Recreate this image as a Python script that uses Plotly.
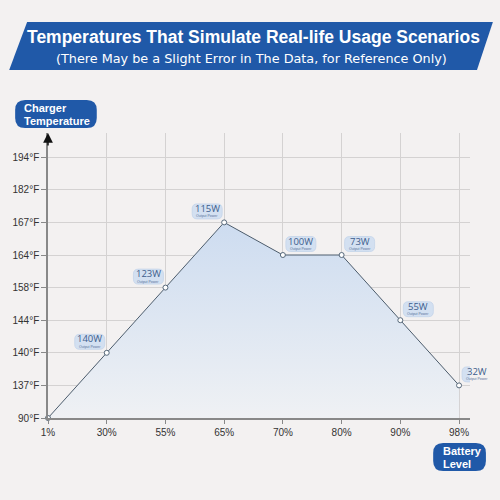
import plotly.graph_objects as go

# ---- data ----
battery_levels = ["1%", "30%", "55%", "65%", "70%", "80%", "90%", "98%"]
temp_labels = ["90°F", "137°F", "140°F", "144°F", "158°F", "164°F", "167°F", "182°F", "194°F"]
point_temps = ["90°F", "140°F", "158°F", "167°F", "164°F", "164°F", "144°F", "137°F"]
output_power = [None, "140W", "123W", "115W", "100W", "73W", "55W", "32W"]
label_side = [None, "left", "left", "left", "right", "right", "right", "right"]

xi = list(range(len(battery_levels)))
yi = [temp_labels.index(t) for t in point_temps]

# ---- layout geometry (pixels) ----
W, H = 500, 500
L, R, T, B = 46, 30, 133, 82
PW, PH = W - L - R, H - T - B
XSTEP = 59.0
YSTEP = 32.6
x_max = (PW) / XSTEP
y_max = (PH) / YSTEP

def px(xp):
    return (xp - L) / PW

def py(yp):
    return (H - B - yp) / PH

BLUE = "#2059a8"
BG = "#f3f1f1"

fig = go.Figure()

fig.add_trace(go.Scatter(
    x=xi, y=yi, mode="lines+markers",
    line=dict(color="#4c5c6c", width=1),
    marker=dict(size=5, color="white", line=dict(color="#56687a", width=1)),
    fill="tozeroy",
    fillgradient=dict(type="vertical",
                      colorscale=[[0, "#eff1f4"], [1, "#cddcf0"]]),
    hoverinfo="skip", showlegend=False, cliponaxis=False,
))

shapes = []
annotations = []

# banner
shapes.append(dict(type="path", xref="paper", yref="paper",
                   path=f"M {px(25)},{py(22)} L {px(493)},{py(22)} L {px(477)},{py(70)} L {px(7)},{py(70)} Z",
                   fillcolor=BLUE, line=dict(width=0), layer="above"))
annotations.append(dict(xref="paper", yref="paper", x=px(252), y=py(37),
                        text="<b>Temperatures That Simulate Real-life Usage Scenarios</b>",
                        showarrow=False, font=dict(family="Liberation Sans, Arial", size=17.5, color="white"),
                        xanchor="center", yanchor="middle"))
annotations.append(dict(xref="paper", yref="paper", x=px(250), y=py(58),
                        text="(There May be a Slight Error in The Data, for Reference Only)",
                        showarrow=False, font=dict(family="DejaVu Sans", size=12.8, color="white"),
                        xanchor="center", yanchor="middle"))

# axis name badges
def rounded_paper(x0, y0, x1, y1, r):
    p = (f"M {px(x0 + r)},{py(y0)} L {px(x1 - r)},{py(y0)} Q {px(x1)},{py(y0)} {px(x1)},{py(y0 + r)} "
         f"L {px(x1)},{py(y1 - r)} Q {px(x1)},{py(y1)} {px(x1 - r)},{py(y1)} "
         f"L {px(x0 + r)},{py(y1)} Q {px(x0)},{py(y1)} {px(x0)},{py(y1 - r)} "
         f"L {px(x0)},{py(y0 + r)} Q {px(x0)},{py(y0)} {px(x0 + r)},{py(y0)} Z")
    return p

def badge_lines(x_left, y_centers, lines):
    for yc, txt in zip(y_centers, lines):
        annotations.append(dict(xref="paper", yref="paper", x=px(x_left), y=py(yc),
                                text=f"<b>{txt}</b>", showarrow=False, align="left",
                                font=dict(family="Liberation Sans, Arial", size=11, color="white"),
                                xanchor="left", yanchor="middle"))

shapes.append(dict(type="path", xref="paper", yref="paper", path=rounded_paper(13, 100, 95, 128, 10),
                   fillcolor=BLUE, line=dict(width=0), layer="above"))
badge_lines(20, [108, 121], ["Charger", "Temperature"])
shapes.append(dict(type="path", xref="paper", yref="paper", path=rounded_paper(433, 443, 486, 471, 10),
                   fillcolor=BLUE, line=dict(width=0), layer="above"))
badge_lines(441, [451, 464], ["Battery", "Level"])

# axis arrows
annotations.append(dict(x=x_max + 0.16, y=0, xref="x", yref="y", ax=-14, ay=0, text="",
                        showarrow=True, arrowhead=2, arrowsize=1.3, arrowwidth=1.5, arrowcolor="#111"))
annotations.append(dict(x=0, y=y_max, xref="x", yref="y", ax=0, ay=14, text="",
                        showarrow=True, arrowhead=2, arrowsize=1.3, arrowwidth=1.5, arrowcolor="#111"))

# value badges
def badge_path(cx, cy, w, h, r):
    x0, x1 = cx - w / 2, cx + w / 2
    y0, y1 = cy - h / 2, cy + h / 2
    return (f"M {x0 + r},{y0} L {x1 - r},{y0} Q {x1},{y0} {x1},{y0 + r} "
            f"L {x1},{y1 - r} Q {x1},{y1} {x1 - r},{y1} L {x0 + r},{y1} Q {x0},{y1} {x0},{y1 - r} "
            f"L {x0},{y0 + r} Q {x0},{y0} {x0 + r},{y0} Z")

for i, (xv, yv, lab, side) in enumerate(zip(xi, yi, output_power, label_side)):
    if lab is None:
        continue
    dx = -17 if side == "left" else 18
    dy = 11
    shapes.append(dict(type="path", xref="x", yref="y", xsizemode="pixel", ysizemode="pixel",
                       xanchor=xv, yanchor=yv, path=badge_path(dx, dy, 30, 15, 5),
                       fillcolor="#d3e0f1", line=dict(color="#c4d4ea", width=0.8), layer="above"))
    annotations.append(dict(x=xv, y=yv, xref="x", yref="y", xshift=dx, yshift=dy + 3,
                            text=lab, showarrow=False,
                            font=dict(family="Open Sans", size=9.5, color="#3d5d8c"),
                            xanchor="center", yanchor="middle"))
    annotations.append(dict(x=xv, y=yv, xref="x", yref="y", xshift=dx, yshift=dy - 5,
                            text="Output Power", showarrow=False,
                            font=dict(family="Liberation Sans", size=3.5, color="#5a7099"),
                            xanchor="center", yanchor="middle"))

fig.update_layout(
    width=W, height=H,
    margin=dict(l=L, r=R, t=T, b=B, pad=0),
    paper_bgcolor=BG, plot_bgcolor=BG,
    shapes=shapes, annotations=annotations,
    showlegend=False,
    xaxis=dict(range=[0, x_max], tickmode="array", tickvals=xi, ticktext=battery_levels,
               showgrid=True, gridcolor="#d4d2d2", gridwidth=1, zeroline=False,
               showline=True, linecolor="#888", linewidth=1.5,
               ticks="outside", ticklen=4, tickcolor="#888",
               tickfont=dict(family="Liberation Sans, Arial", size=10, color="#333"), fixedrange=True),
    yaxis=dict(range=[0, y_max], tickmode="array", tickvals=list(range(len(temp_labels))), ticktext=temp_labels,
               showgrid=True, gridcolor="#d4d2d2", gridwidth=1, zeroline=False,
               showline=True, linecolor="#888", linewidth=1.5,
               ticks="outside", ticklen=5, tickcolor="#888",
               tickfont=dict(family="Liberation Sans, Arial", size=10, color="#333"), fixedrange=True),
)

fig.write_html("out.html", config={"displayModeBar": False},
               post_script="document.body.style.margin='0';document.body.style.background='#f3f1f1';")
